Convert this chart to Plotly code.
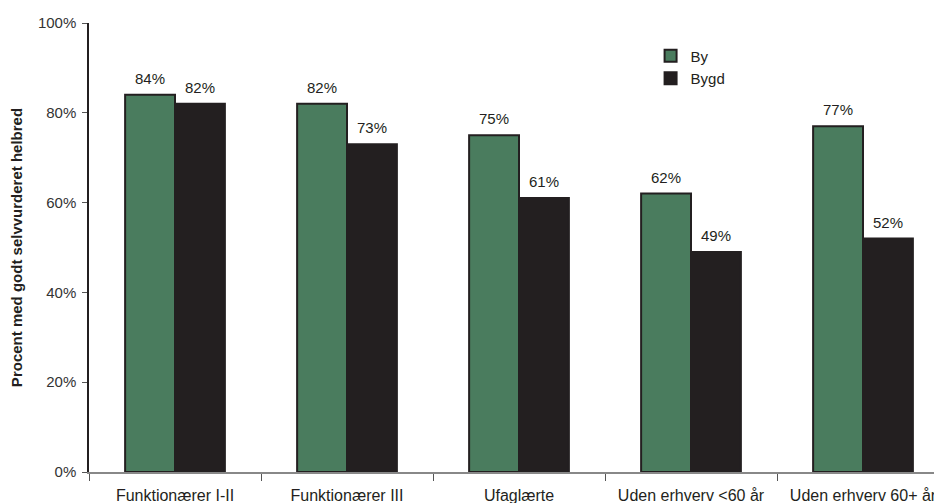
import plotly.graph_objects as go

categories = ["Funktionærer I-II", "Funktionærer III", "Ufaglærte", "Uden erhverv <60 år", "Uden erhverv 60+ år"]
by_values = [84, 82, 75, 62, 77]
bygd_values = [82, 73, 61, 49, 52]
y_ticks = [0, 20, 40, 60, 80, 100]
y_tick_labels = [f"{v}%" for v in y_ticks]

GREEN = "#4a7c5e"
DARK = "#231f20"
FONT = "Liberation Sans, Arial, sans-serif"

fig = go.Figure()
fig.add_trace(go.Bar(
    name="By", x=categories, y=by_values,
    marker=dict(color=GREEN, line=dict(color=DARK, width=2)),
))
fig.add_trace(go.Bar(
    name="Bygd", x=categories, y=bygd_values,
    marker=dict(color=DARK, line=dict(color=DARK, width=2)),
))

# value labels above bars
for values, shift in ((by_values, -25), (bygd_values, 25)):
    for cat, v in zip(categories, values):
        fig.add_annotation(
            x=cat, y=v, xref="x", yref="y", text=f"{v}%", showarrow=False,
            xanchor="center", yanchor="bottom", xshift=shift, yshift=6,
            font=dict(size=15, color=DARK, family=FONT),
        )

fig.update_layout(
    width=942, height=503,
    margin=dict(l=81, r=1, t=15, b=39),
    paper_bgcolor="white", plot_bgcolor="white",
    barmode="group", bargap=0.42, bargroupgap=0,
    font=dict(family=FONT, size=15, color=DARK),
    showlegend=True,
    legend=dict(x=0.653, y=0.963, xanchor="left", yanchor="top",
                bgcolor="rgba(0,0,0,0)", font=dict(size=15, color=DARK),
                itemwidth=30, tracegroupgap=0),
    xaxis=dict(
        range=[-0.5, 4.5], showline=True, linecolor="#888888", linewidth=1.5,
        ticks="outside", tickson="boundaries", ticklen=7, tickcolor="#555555",
        showgrid=False, tickfont=dict(size=16, color=DARK), automargin=False,
        ticklabelstandoff=8,
    ),
    yaxis=dict(
        range=[0, 100], tickvals=y_ticks, ticktext=y_tick_labels,
        showline=True, linecolor=DARK, linewidth=1.5,
        ticks="outside", ticklen=5, tickcolor="#555555", showgrid=False, zeroline=False,
        tickfont=dict(size=15, color="#333333"), automargin=False,
        ticklabelstandoff=3,
        title=dict(text="<b>Procent med godt selvvurderet helbred</b>",
                   font=dict(size=15, color=DARK), standoff=27),
    ),
)

fig.write_html("out.html")
